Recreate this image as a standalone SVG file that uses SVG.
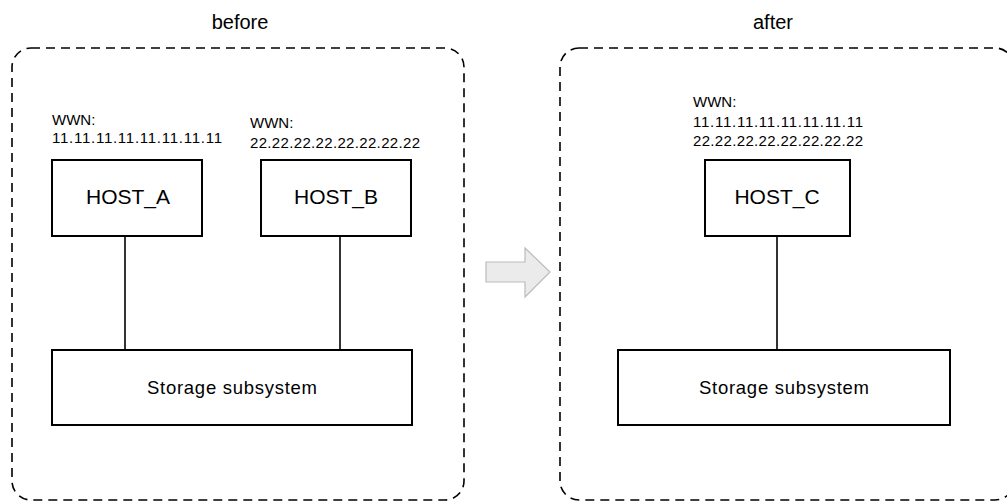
<svg xmlns="http://www.w3.org/2000/svg" width="1007" height="501" viewBox="0 0 1007 501">
<style>
.frame{fill:none;stroke:#000;stroke-width:1.6;stroke-dasharray:9 6}
.box{fill:#fff;stroke:#000;stroke-width:2}
.conn{stroke:#000;stroke-width:1.6;fill:none}
.title{font-family:"Liberation Sans",Arial,sans-serif;font-size:20px;fill:#000;text-anchor:middle}
.host{font-family:"Liberation Sans",Arial,sans-serif;font-size:21px;fill:#000;text-anchor:middle}
.wwn{font-family:"Liberation Sans",Arial,sans-serif;font-size:15px;fill:#000}
.stor{font-family:"Liberation Sans",Arial,sans-serif;font-size:18.5px;fill:#000;text-anchor:middle}
</style>
<rect width="1007" height="501" fill="#fff"/>
<g id="before">
<text class="title" x="240" y="29">before</text>
<rect class="frame" x="12" y="48" width="452" height="452" rx="19"/>
</g>
<g id="after">
<text class="title" x="773" y="29">after</text>
<rect class="frame" x="560" y="48" width="454" height="452" rx="19"/>
</g>
<g id="connectors">
<line class="conn" x1="125" y1="236" x2="125" y2="350"/>
<line class="conn" x1="340" y1="236" x2="340" y2="350"/>
<line class="conn" x1="777" y1="236" x2="777" y2="350"/>
</g>
<g id="host_a">
<text class="wwn" x="52" y="125">WWN:</text>
<text class="wwn" x="52" y="143" textLength="170" lengthAdjust="spacing">11.11.11.11.11.11.11.11</text>
<rect class="box" x="52" y="160" width="150" height="76"/>
<text class="host" x="128" y="204">HOST_A</text>
</g>
<g id="host_b">
<text class="wwn" x="250" y="128">WWN:</text>
<text class="wwn" x="250" y="148" textLength="170" lengthAdjust="spacing">22.22.22.22.22.22.22.22</text>
<rect class="box" x="261" y="160" width="150" height="76"/>
<text class="host" x="336" y="204">HOST_B</text>
</g>
<g id="storage_before">
<rect class="box" x="52" y="350" width="360" height="75"/>
<text class="stor" x="232" y="394" textLength="170" lengthAdjust="spacing">Storage subsystem</text>
</g>
<g id="host_c">
<text class="wwn" x="693" y="107">WWN:</text>
<text class="wwn" x="693" y="127" textLength="170" lengthAdjust="spacing">11.11.11.11.11.11.11.11</text>
<text class="wwn" x="693" y="146" textLength="170" lengthAdjust="spacing">22.22.22.22.22.22.22.22</text>
<rect class="box" x="705" y="160" width="145" height="76"/>
<text class="host" x="777" y="204">HOST_C</text>
</g>
<g id="storage_after">
<rect class="box" x="618" y="350" width="332" height="75"/>
<text class="stor" x="784" y="394" textLength="170" lengthAdjust="spacing">Storage subsystem</text>
</g>
<g id="transition_arrow">
<polygon points="486,262 525,262 525,248 550,272 525,297 525,282 486,282" fill="#ebebeb" stroke="#bbbbbb" stroke-width="1.2"/>
</g>
</svg>
